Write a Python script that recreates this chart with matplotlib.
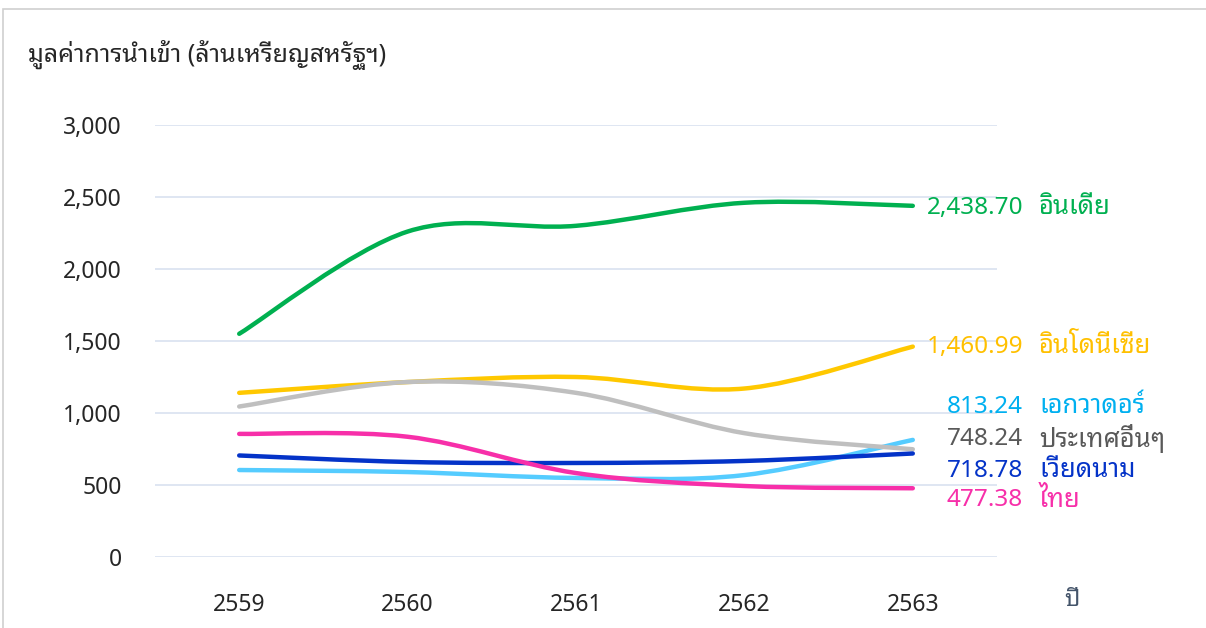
import matplotlib
matplotlib.use("Agg")
import matplotlib.pyplot as plt
from matplotlib.path import Path
from matplotlib.patches import PathPatch, Rectangle
from matplotlib.ticker import FuncFormatter

plt.rcParams['font.family'] = ['Noto Sans', 'Noto Sans Thai Looped']

years = [2559, 2560, 2561, 2562, 2563]
countries = ["อินเดีย", "อินโดนีเซีย", "เอกวาดอร์", "ประเทศอื่นๆ", "เวียดนาม", "ไทย"]
india = [1550, 2260, 2300, 2460, 2438.70]
indonesia = [1140, 1215, 1250, 1170, 1460.99]
ecuador = [604, 590, 549, 569, 813.24]
others = [1045, 1215, 1140, 860, 748.24]
vietnam = [705, 660, 653, 667, 718.78]
thailand = [855, 835, 583, 493, 477.38]
series = [india, indonesia, ecuador, others, vietnam, thailand]

line_colors = ["#00B050", "#FFC800", "#55CCFF", "#BFBFBF", "#0433C8", "#F72FA9"]
text_colors = ["#00B050", "#FFC000", "#00B0F0", "#595959", "#0433C8", "#F72FA9"]
# label y positions (data units) so the labels don't overlap
label_y = [2425, 1460.99, 1042, 822, 600, 395]


def smooth_path(xs, ys):
    # Excel-like smoothed line: cubic bezier segments through every point
    pts = list(zip(xs, ys))
    verts = [pts[0]]
    codes = [Path.MOVETO]
    n = len(pts)
    for i in range(n - 1):
        p0 = pts[max(i - 1, 0)]
        p1 = pts[i]
        p2 = pts[i + 1]
        p3 = pts[min(i + 2, n - 1)]
        c1 = (p1[0] + (p2[0] - p0[0]) / 6, p1[1] + (p2[1] - p0[1]) / 6)
        c2 = (p2[0] - (p3[0] - p1[0]) / 6, p2[1] - (p3[1] - p1[1]) / 6)
        verts += [c1, c2, p2]
        codes += [Path.CURVE4, Path.CURVE4, Path.CURVE4]
    return Path(verts, codes)


fig = plt.figure(figsize=(12.06, 6.28), dpi=100)
ax = fig.add_axes([155 / 1206, 1 - 557 / 628, 842 / 1206, 432 / 628])

for vals, col in zip(series, line_colors):
    ax.add_patch(PathPatch(smooth_path(years, vals), fill=False, edgecolor=col,
                           lw=3.2, capstyle='round', joinstyle='round', zorder=3))

ax.set_xlim(2558.5, 2563.5)
ax.set_ylim(0, 3000)
ax.set_xticks(years)
ax.set_yticks(range(0, 3001, 500))
ax.yaxis.set_major_formatter(FuncFormatter(lambda v, p: f"{int(v):,}"))
ax.grid(axis='y', color="#D9E2F0", lw=1.2)
ax.set_axisbelow(True)
for s in ax.spines.values():
    s.set_visible(False)
ax.tick_params(length=0, labelsize=16.5, labelcolor="#262626")
ax.tick_params(axis='y', pad=24)
ax.tick_params(axis='x', pad=26)

for vals, name, col, ly in zip(series, countries, text_colors, label_y):
    ax.annotate(f"{vals[-1]:,.2f}", xy=(1.0, ly), xycoords=('axes fraction', 'data'),
                xytext=(26, 0), textcoords='offset pixels', ha='right', va='center',
                color=col, fontsize=17.5, clip_on=False)
    ax.annotate(name, xy=(1.0, ly), xycoords=('axes fraction', 'data'),
                xytext=(42, 0), textcoords='offset pixels', ha='left', va='center',
                color=col, fontsize=18.5, clip_on=False)

fig.text(28 / 1206, 1 - 55 / 628, "มูลค่าการนำเข้า (ล้านเหรียญสหรัฐฯ)", ha='left', va='center',
         fontsize=18, color="#262626")
fig.text(1072 / 1206, 1 - 600 / 628, "ปี", ha='center', va='center', fontsize=17, color="#44546A")

# light frame at top/left like the original screenshot
fig.add_artist(Rectangle((3 / 1206, -0.05), 1.1, 1 - 9 / 628 + 0.05, transform=fig.transFigure,
                         fill=False, edgecolor="#D0D0D0", lw=1.2))

fig.savefig("out.png", dpi=100)
